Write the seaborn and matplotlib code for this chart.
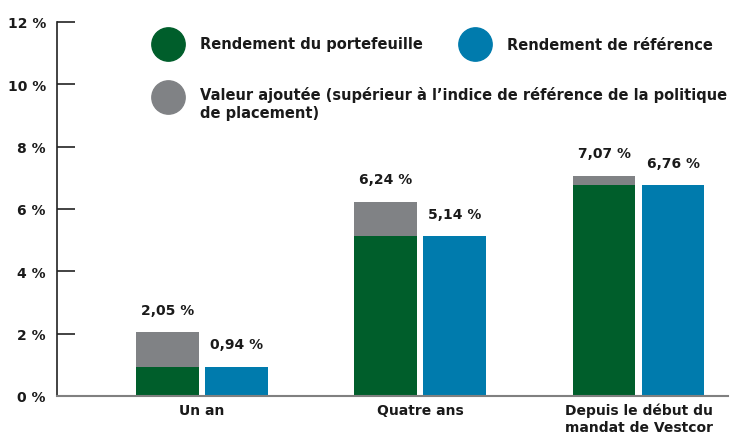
import matplotlib
matplotlib.use("Agg")
import matplotlib.pyplot as plt
import seaborn as sns
import pandas as pd

categories = ["Un an", "Quatre ans", "Depuis le début du\nmandat de Vestcor"]
portfolio = [2.05, 6.24, 7.07]
benchmark = [0.94, 5.14, 6.76]
yticks = [0, 2, 4, 6, 8, 10, 12]
ytick_labels = ["0 %", "2 %", "4 %", "6 %", "8 %", "10 %", "12 %"]
legend_labels = ["Rendement du portefeuille", "Rendement de référence",
                 "Valeur ajoutée (supérieur à l\u2019indice de référence de la politique\nde placement)"]

GREEN = "#005E2B"
BLUE = "#007BAD"
GREY = "#808285"

sns.set_theme(style="white")
plt.rcParams["font.family"] = ["DejaVu Sans"]
plt.rcParams["font.weight"] = "bold"

fig = plt.figure(figsize=(7.38, 4.39), dpi=100)
ax = fig.add_axes([57/738, 1 - 397/439, (728 - 57)/738, (397 - 23)/439])

series_order = ["Portefeuille", "Référence"]
df_total = pd.DataFrame({
    "cat": categories * 2,
    "series": ["Portefeuille"] * 3 + ["Référence"] * 3,
    "val": portfolio + benchmark,
})
df_base = pd.DataFrame({
    "cat": categories * 2,
    "series": ["Portefeuille"] * 3 + ["Référence"] * 3,
    "val": benchmark + benchmark,
})

sns.barplot(data=df_total, x="cat", y="val", hue="series", hue_order=series_order,
            palette=[GREY, BLUE], width=0.633, gap=0.09, ax=ax, legend=False,
            errorbar=None, saturation=1, linewidth=0)
sns.barplot(data=df_base, x="cat", y="val", hue="series", hue_order=series_order,
            palette=[GREEN, BLUE], width=0.633, gap=0.09, ax=ax, legend=False,
            errorbar=None, saturation=1, linewidth=0)

# value labels
for cont, vals in [(ax.containers[0], portfolio), (ax.containers[1], benchmark)]:
    for patch, v in zip(cont.patches, vals):
        ax.annotate(f"{v:.2f} %".replace(".", ","),
                    (patch.get_x() + patch.get_width() / 2, v),
                    xytext=(0, 11), textcoords="offset points",
                    ha="center", va="bottom", fontsize=10, fontweight="bold",
                    color="#1a1a1a")

ax.set_xlim(-0.665, 2.41)
ax.set_ylim(0, 12)
ax.set_yticks(yticks)
ax.set_yticklabels(ytick_labels, fontsize=10, fontweight="bold", color="#1a1a1a")
ax.tick_params(axis="y", direction="in", length=13, width=1.2, color="#222222", pad=8, left=True)
ax.tick_params(axis="x", length=0, pad=5)
for lbl in ax.get_xticklabels():
    lbl.set_fontsize(10)
    lbl.set_fontweight("bold")
    lbl.set_color("#1a1a1a")
    lbl.set_va("top")
ax.set_xlabel("")
ax.set_ylabel("")

sns.despine(ax=ax, top=True, right=True)
ax.spines["left"].set_color("#222222")
ax.spines["left"].set_linewidth(1.2)
ax.spines["bottom"].set_color("#808080")
ax.spines["bottom"].set_linewidth(1.5)

# custom legend
def px(x, y):
    return ((x - 57) / (728 - 57), (397 - y) / (397 - 23))

for (cx, cy), col, (tx, ty), lab in [
    ((168, 45), GREEN, (200, 45), legend_labels[0]),
    ((475, 45), BLUE, (507, 45), legend_labels[1]),
    ((168, 98), GREY, (200, 104), legend_labels[2]),
]:
    ax.plot(*px(cx, cy), marker="o", markersize=24, color=col, transform=ax.transAxes,
            clip_on=False, linestyle="none")
    ax.text(*px(tx, ty), lab, transform=ax.transAxes, ha="left", va="center",
            fontsize=10.5, fontweight="bold", color="#1a1a1a", linespacing=1.25)

fig.savefig("out.png", dpi=100)
